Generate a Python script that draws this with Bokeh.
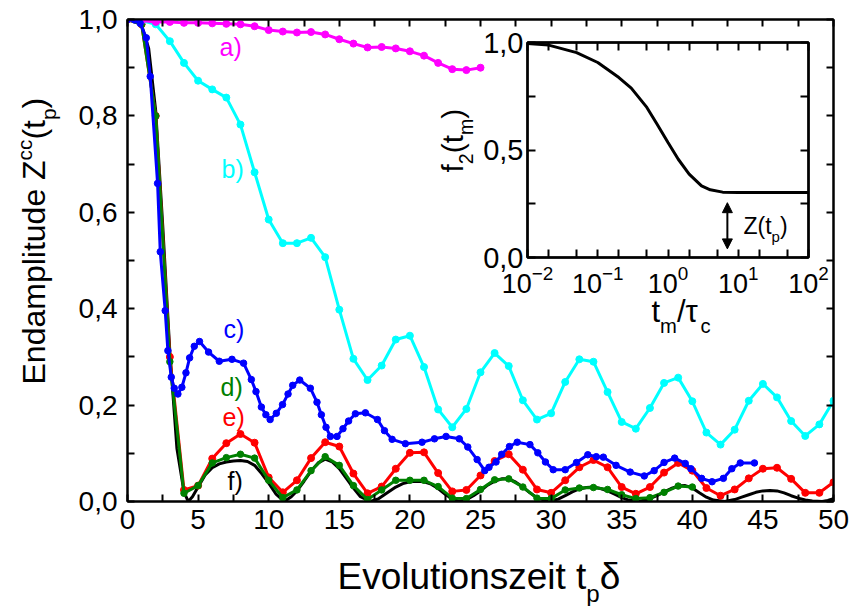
from math import pi

from bokeh.plotting import figure
from bokeh.models import (Range1d, LinearAxis, LogAxis, FixedTicker, CustomJSTickFormatter,
                          Label, Arrow, NormalHead, ColumnDataSource)
from bokeh.core.properties import value
from bokeh.embed import file_html
from bokeh.resources import INLINE

FONT = "Liberation Sans"

# ---------------- data ----------------
# a) magenta
t_a = list(range(0, 26))
z_a = [1.0, 0.998, 0.995, 0.995, 0.993, 0.993, 0.992, 0.991, 0.990, 0.986, 0.978, 0.975, 0.973,
       0.974, 0.969, 0.959, 0.950, 0.942, 0.943, 0.940, 0.934, 0.925, 0.910, 0.897, 0.895, 0.900]

# b) cyan
t_b = list(range(0, 51))
z_b = [1.0, 0.998, 0.990, 0.955, 0.910, 0.873, 0.855, 0.838, 0.782, 0.683, 0.585, 0.536, 0.536,
       0.547, 0.507, 0.398, 0.296, 0.252, 0.282, 0.336, 0.344, 0.279, 0.191, 0.154, 0.192, 0.268,
       0.308, 0.281, 0.210, 0.170, 0.183, 0.248, 0.295, 0.290, 0.227, 0.165, 0.151, 0.194, 0.246,
       0.257, 0.208, 0.143, 0.118, 0.149, 0.209, 0.244, 0.216, 0.167, 0.136, 0.160, 0.209]

# c) blue
t_c = [0, 0.5, 0.9, 1.33, 1.61, 2.13, 2.32, 2.67, 2.86, 3.1, 3.31, 3.57, 3.85, 4.14, 4.4, 4.73,
       5.1, 5.74, 6.5, 7.4, 8.22, 8.77, 9.1, 9.48, 9.8, 10.1, 10.54, 10.98, 11.37, 11.7, 12.2,
       12.95, 13.42, 13.73, 14.06, 14.37, 14.84, 15.26, 15.66, 16.14, 16.85, 17.7, 18.2, 18.74,
       19.68, 20.86, 21.74, 22.56, 23.5, 24.1, 24.76, 25.3, 25.6, 26.1, 26.5, 27.05, 27.6, 28.5,
       29.06, 29.6, 30.15, 31.0, 31.8, 32.6, 33.2, 33.7, 34.6, 35.6, 36.6, 37.3, 38.0, 38.75,
       39.5, 39.9, 40.66, 41.4, 42.2, 42.8, 43.4, 44.4]
z_c = [1.0, 0.999, 0.992, 0.962, 0.882, 0.660, 0.518, 0.396, 0.313, 0.258, 0.235, 0.223, 0.237,
       0.267, 0.298, 0.322, 0.332, 0.310, 0.291, 0.295, 0.287, 0.253, 0.228, 0.196, 0.180, 0.170,
       0.183, 0.201, 0.223, 0.241, 0.252, 0.235, 0.206, 0.180, 0.154, 0.135, 0.135, 0.151, 0.167,
       0.182, 0.184, 0.170, 0.147, 0.129, 0.120, 0.123, 0.130, 0.135, 0.130, 0.113, 0.087, 0.064,
       0.071, 0.082, 0.098, 0.114, 0.123, 0.118, 0.101, 0.082, 0.066, 0.066, 0.081, 0.097, 0.093,
       0.092, 0.075, 0.061, 0.053, 0.064, 0.081, 0.090, 0.079, 0.068, 0.048, 0.041, 0.048, 0.068,
       0.080, 0.080]

# d) green
t_d = list(range(0, 41))
z_d = [1.0, 0.99, 0.80, 0.29, 0.017, 0.033, 0.080, 0.091, 0.098, 0.090, 0.044, 0.008, 0.024,
       0.064, 0.093, 0.075, 0.033, 0.004, 0.024, 0.044, 0.044, 0.044, 0.031, 0.007, 0.006, 0.025,
       0.045, 0.047, 0.030, 0.007, 0.006, 0.024, 0.028, 0.029, 0.025, 0.014, 0.006, 0.008, 0.019,
       0.032, 0.030]

# e) red
t_e = list(range(0, 51))
z_e = [1.0, 0.99, 0.80, 0.30, 0.024, 0.033, 0.089, 0.121, 0.140, 0.122, 0.050, 0.019, 0.044,
       0.090, 0.123, 0.114, 0.058, 0.017, 0.031, 0.068, 0.101, 0.102, 0.059, 0.021, 0.024, 0.054,
       0.084, 0.098, 0.066, 0.025, 0.018, 0.044, 0.071, 0.086, 0.071, 0.030, 0.016, 0.030, 0.060,
       0.080, 0.064, 0.028, 0.012, 0.025, 0.048, 0.068, 0.070, 0.047, 0.018, 0.018, 0.040]

# f) black theory curve
t_f = [0, 0.5, 1, 1.5, 2, 2.5, 3, 3.5, 4, 4.3, 4.6, 5, 5.5, 6, 6.5, 7, 7.5, 8, 8.5, 9, 9.5, 10,
       10.5, 11.1, 11.6, 12, 12.5, 13, 13.5, 14, 14.5, 15, 15.5, 16, 16.5, 17.2, 17.8, 18.5, 19,
       19.5, 20, 20.5, 21, 21.5, 22, 22.5, 23, 23.5, 24, 24.5, 25, 25.5, 26, 26.5, 27, 27.5, 28,
       28.5, 29, 29.8, 30.5, 31, 31.5, 32, 32.5, 33, 33.5, 34, 34.5, 35, 35.5, 36.2, 36.8, 37.5,
       38, 38.5, 39, 39.5, 40, 40.5, 41, 41.5, 42.3, 43, 43.5, 44, 44.5, 45, 45.5, 46, 46.5, 47,
       47.5, 48, 48.5, 49.2, 49.6, 50]
z_f = [1.0, 0.998, 0.988, 0.94, 0.81, 0.57, 0.31, 0.11, 0.02, 0.0, 0.01, 0.03, 0.055, 0.07,
       0.078, 0.082, 0.084, 0.085, 0.083, 0.075, 0.058, 0.038, 0.016, 0.0, 0.01, 0.022, 0.042,
       0.063, 0.08, 0.088, 0.082, 0.068, 0.048, 0.028, 0.01, 0.0, 0.006, 0.02, 0.03, 0.037, 0.041,
       0.042, 0.041, 0.036, 0.027, 0.015, 0.005, 0.0, 0.004, 0.012, 0.022, 0.034, 0.042, 0.047,
       0.047, 0.04, 0.03, 0.018, 0.008, 0.0, 0.005, 0.012, 0.02, 0.026, 0.029, 0.03, 0.027, 0.022,
       0.015, 0.008, 0.003, 0.0, 0.004, 0.012, 0.02, 0.027, 0.032, 0.033, 0.028, 0.018, 0.009,
       0.003, 0.0, 0.004, 0.009, 0.014, 0.019, 0.022, 0.023, 0.022, 0.018, 0.012, 0.007, 0.003,
       0.001, 0.0, 0.002, 0.006]

# inset: correlation function f2(t_m)
tm = [0.01, 0.02, 0.05, 0.1, 0.2, 0.3, 0.5, 0.7, 1.0, 1.4, 2.0, 3.0, 4.0, 6.0, 10, 100]
f2 = [0.995, 0.988, 0.953, 0.907, 0.837, 0.788, 0.698, 0.620, 0.535, 0.457, 0.388, 0.333,
      0.315, 0.304, 0.302, 0.302]

x_ticks = [0, 5, 10, 15, 20, 25, 30, 35, 40, 45, 50]
x_minor = [2.5, 7.5, 12.5, 17.5, 22.5, 27.5, 32.5, 37.5, 42.5, 47.5]
y_ticks = [0.0, 0.2, 0.4, 0.6, 0.8, 1.0]
y_minor = [0.1, 0.3, 0.5, 0.7, 0.9]
in_x_ticks = [0.01, 0.1, 1, 10, 100]
in_x_minor = [0.02, 0.05, 0.2, 0.5, 2, 5, 20, 50]
in_y_ticks = [0.0, 0.5, 1.0]
in_y_minor = [0.25, 0.75]

# ---------------- helpers ----------------
ARIAL = {' ': 278, '(': 333, ')': 333, ',': 278, '-': 333, '/': 278, 'E': 667, 'Z': 611,
         'a': 556, 'c': 500, 'd': 556, 'e': 556, 'f': 278, 'i': 222, 'l': 222, 'm': 833,
         'n': 556, 'o': 556, 'p': 556, 's': 500, 't': 278, 'u': 556, 'v': 500, 'z': 500,
         '\u03b4': 556, '\u03c4': 480}


def text_width(s, size):
    return sum(ARIAL.get(ch, 556) for ch in s) * size / 1000.0


def style_axis(ax, size, tick_len, standoff, show_labels=True):
    ax.axis_line_width = 2
    ax.major_tick_line_width = 2
    ax.minor_tick_line_width = 2
    ax.major_tick_in = tick_len
    ax.major_tick_out = 0
    ax.minor_tick_in = tick_len
    ax.minor_tick_out = 0
    ax.major_label_text_font = FONT
    ax.major_label_text_color = "black"
    ax.major_label_standoff = standoff
    ax.major_label_text_font_size = size
    if not show_labels:
        ax.major_label_text_alpha = 0.0


def comma():
    return CustomJSTickFormatter(code="return tick.toFixed(1).replace('.', ',')")


def blank():
    return CustomJSTickFormatter(code="return ''")


# ---------------- main plot ----------------
L, R, T, B = 127, 833, 19, 501
p = figure(width=850, height=606, x_range=Range1d(0, 50), y_range=Range1d(0, 1.0),
           output_backend="svg", toolbar_location=None,
           min_border_left=L, min_border_right=850 - R, min_border_top=T,
           min_border_bottom=606 - B, outline_line_color="black", outline_line_width=2,
           background_fill_color="white", border_fill_color="white")
p.grid.visible = False

p.xaxis.ticker = FixedTicker(ticks=x_ticks, minor_ticks=x_minor)
p.yaxis.ticker = FixedTicker(ticks=y_ticks, minor_ticks=y_minor)
p.yaxis.formatter = comma()
style_axis(p.xaxis[0], "28px", 7, 8)
style_axis(p.yaxis[0], "28px", 7, 10)
top_ax = LinearAxis(ticker=FixedTicker(ticks=x_ticks, minor_ticks=x_minor), formatter=blank())
right_ax = LinearAxis(ticker=FixedTicker(ticks=y_ticks, minor_ticks=y_minor), formatter=blank())
style_axis(top_ax, "10px", 7, 0, show_labels=False)
style_axis(right_ax, "10px", 7, 0, show_labels=False)
p.add_layout(top_ax, "above")
p.add_layout(right_ax, "right")

p.line(t_f, z_f, line_color="black", line_width=3)
for t, z, col, sz in [(t_e, z_e, "#ff0000", 7), (t_d, z_d, "#008000", 6.5),
                      (t_b, z_b, "#00ffff", 7), (t_a, z_a, "#ff00ff", 7),
                      (t_c, z_c, "#0000ff", 6.5)]:
    p.line(t, z, line_color=col, line_width=3)
    p.scatter(t, z, marker="circle", size=sz, fill_color=col, line_color=col)


def mx(px):
    return (px - L) * 50.0 / (R - L)


def my(py):
    return (B - py) / (B - T)


for txt, col, px, py in [("a)", "#ff00ff", 219, 46), ("b)", "#00ffff", 221, 168),
                         ("c)", "#0000ff", 223, 328), ("d)", "#008000", 220, 386),
                         ("e)", "#ff0000", 222, 416), ("f)", "black", 227, 480)]:
    p.add_layout(Label(x=mx(px), y=my(py), text=txt, text_font=FONT, text_font_size="25px",
                       text_color=col, text_baseline="middle", text_align="left"))

# ---------------- inset ----------------
OX, OY, IW, IH = 440, 25, 410, 315
IL, IR, IT, IB = 527, 808, 42, 257
inset = figure(width=IW, height=IH, x_axis_type="log", x_range=Range1d(0.01, 100),
               y_range=Range1d(0, 1.0), output_backend="svg", toolbar_location=None,
               min_border_left=IL - OX, min_border_right=OX + IW - IR,
               min_border_top=IT - OY, min_border_bottom=OY + IH - IB,
               outline_line_color="black", outline_line_width=2.5,
               background_fill_color="white", border_fill_alpha=0)
inset.grid.visible = False
inset.xaxis.ticker = FixedTicker(ticks=in_x_ticks, minor_ticks=in_x_minor)
inset.yaxis.ticker = FixedTicker(ticks=in_y_ticks, minor_ticks=in_y_minor)
inset.yaxis.formatter = comma()
style_axis(inset.xaxis[0], "27px", 8, 7)
style_axis(inset.yaxis[0], "29px", 8, 4)
itop = LogAxis(ticker=FixedTicker(ticks=in_x_ticks, minor_ticks=in_x_minor), formatter=blank())
iright = LinearAxis(ticker=FixedTicker(ticks=in_y_ticks, minor_ticks=in_y_minor),
                    formatter=blank())
style_axis(itop, "10px", 8, 0, show_labels=False)
style_axis(iright, "10px", 8, 0, show_labels=False)
inset.add_layout(itop, "above")
inset.add_layout(iright, "right")

inset.line(tm, f2, line_color="black", line_width=3)
inset.add_layout(Arrow(start=NormalHead(size=10, fill_color="black", line_color="black"),
                       end=NormalHead(size=10, fill_color="black", line_color="black"),
                       x_start=7, y_start=0.255, x_end=7, y_end=0.04, line_width=2,
                       line_color="black"))

# ---------------- titles with sub/superscripts (page pixel coordinates) ----------------
runs = dict(x=[], y=[], text=[], fs=[], angle=[])
MID = 0.35  # vertical middle of the em box above the baseline, in em


def rich(pieces, px, py, size, vertical=False):
    """Lay out runs of text (normal / sub / superscript); (px, py) is the start of the baseline."""
    pos = 0.0
    for text, rel, shift in pieces:
        fs = size * rel
        lift = shift * size + MID * fs
        if vertical:
            bx, by, ang = px - lift, py - pos, pi / 2
        else:
            bx, by, ang = px + pos, py - lift, 0.0
        runs["x"].append(bx)
        runs["y"].append(606 - by)
        runs["text"].append(text)
        runs["fs"].append(f"{fs:.1f}px")
        runs["angle"].append(ang)
        pos += text_width(text, fs)


rich([("Evolutionszeit t", 1, 0), ("p", 0.65, -0.33), ("\u03b4", 1, 0)], 337, 589, 37)
rich([("Endamplitude Z", 1, 0), ("cc", 0.65, 0.42), ("(t", 1, 0), ("p", 0.65, -0.33),
      (")", 1, 0)], 45, 384, 32, vertical=True)
rich([("Z(t", 1, 0), ("p", 0.65, -0.33), (")", 1, 0)], 743, 234, 23)
rich([("t", 1, 0), ("m", 0.65, -0.33), ("/\u03c4", 1, 0), ("c", 0.65, -0.33)], 651, 322, 31)
rich([("f", 1, 0), ("2", 0.65, -0.33), ("(t", 1, 0), ("m", 0.65, -0.33), (")", 1, 0)],
     462, 172, 30, vertical=True)

ov = figure(width=850, height=606, x_range=Range1d(0, 850), y_range=Range1d(0, 606),
            output_backend="svg", toolbar_location=None, min_border=0,
            x_axis_location=None, y_axis_location=None, outline_line_color=None,
            background_fill_alpha=0, border_fill_alpha=0)
ov.grid.visible = False
ov.text(x="x", y="y", text="text", angle="angle", source=ColumnDataSource(runs),
        text_font=value(FONT), text_font_size="fs", text_color="black",
        text_baseline=value("middle"), text_align=value("left"))

# the inset and the titles sit on top of the main plot at fixed places on the page
p.styles = {"position": "absolute", "left": "0px", "top": "0px"}
inset.styles = {"position": "absolute", "left": f"{OX}px", "top": f"{OY}px"}
ov.styles = {"position": "absolute", "left": "0px", "top": "0px"}

open("out.html", "w").write(file_html([p, inset, ov], INLINE))
